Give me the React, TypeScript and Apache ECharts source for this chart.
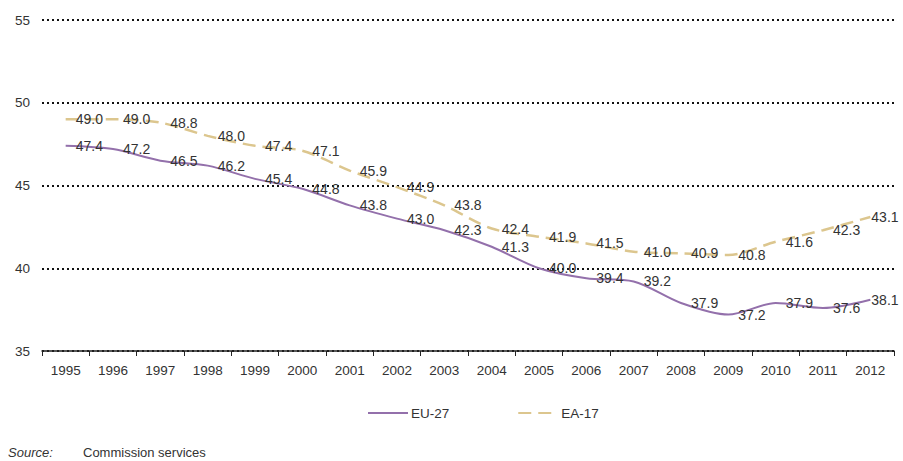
import React, { useEffect, useRef } from "react";
import * as echarts from "echarts";

const years = ["1995","1996","1997","1998","1999","2000","2001","2002","2003","2004","2005","2006","2007","2008","2009","2010","2011","2012"];
const eu27 = [47.4, 47.2, 46.5, 46.2, 45.4, 44.8, 43.8, 43.0, 42.3, 41.3, 40.0, 39.4, 39.2, 37.9, 37.2, 37.9, 37.6, 38.1];
const ea17 = [49.0, 49.0, 48.8, 48.0, 47.4, 47.1, 45.9, 44.9, 43.8, 42.4, 41.9, 41.5, 41.0, 40.9, 40.8, 41.6, 42.3, 43.1];
const seriesNames = ["EU-27", "EA-17"];
const yTicks = { min: 35, max: 55, interval: 5 };
const sourceLabel = "Source:";
const sourceText = "Commission services";

const FONT = "'Liberation Sans', Arial, sans-serif";

export default function App() {
  const ref = useRef<HTMLDivElement>(null);
  useEffect(() => {
    if (!ref.current) return;
    const chart = echarts.init(ref.current, null, { renderer: "svg" });
    const labelCfg = {
      show: true,
      position: "right",
      distance: 10,
      color: "#333",
      fontFamily: FONT,
      fontSize: 14,
      formatter: (p: any) => Number(p.value).toFixed(1),
    };
    const mkData = (arr: number[]) =>
      arr.map((v, i) => (i === arr.length - 1 ? { value: v, label: { distance: 1 } } : v));
    chart.setOption({
      animation: false,
      grid: { left: 42, right: 9, top: 20, bottom: 110, containLabel: false },
      legend: {
        top: 401,
        left: 362,
        itemWidth: 40,
        itemHeight: 10,
        itemGap: 68,
        itemStyle: { opacity: 0 },
        textStyle: { color: "#333", fontFamily: FONT, fontSize: 13.5, padding: [0, 0, 0, -2] },
        data: seriesNames,
      },
      xAxis: {
        type: "category",
        data: years,
        boundaryGap: true,
        axisLine: { lineStyle: { color: "#222", width: 1.5 } },
        axisTick: { show: true, length: 5, lineStyle: { color: "#222" } },
        axisLabel: { color: "#333", fontFamily: FONT, fontSize: 13.5, margin: 12 },
      },
      yAxis: {
        type: "value",
        min: yTicks.min,
        max: yTicks.max,
        interval: yTicks.interval,
        axisLine: { show: false },
        axisTick: { show: false },
        axisLabel: { color: "#333", fontFamily: FONT, fontSize: 13.5, margin: 12 },
        splitLine: { lineStyle: { color: "#111", width: 2, type: [2, 3] } },
      },
      series: [
        {
          name: seriesNames[0],
          type: "line",
          data: mkData(eu27),
          smooth: 0.3,
          symbol: "circle",
          symbolSize: 0.01,
          showSymbol: true,
          lineStyle: { color: "#9370ab", width: 2 },
          itemStyle: { color: "#9370ab" },
          label: labelCfg,
        },
        {
          name: seriesNames[1],
          type: "line",
          data: mkData(ea17),
          smooth: 0.3,
          symbol: "circle",
          symbolSize: 0.01,
          showSymbol: true,
          lineStyle: { color: "#dcc68e", width: 2.5, type: [13, 7] },
          itemStyle: { color: "#dcc68e" },
          label: labelCfg,
        },
      ],
      graphic: [
        {
          type: "text",
          left: 8,
          top: 446,
          style: { text: sourceLabel, fill: "#333", font: `italic 13px ${FONT}` },
        },
        {
          type: "text",
          left: 83,
          top: 446,
          style: { text: sourceText, fill: "#333", font: `13px ${FONT}` },
        },
      ],
    });
    return () => chart.dispose();
  }, []);
  return (
    <div
      ref={ref}
      style={{ position: "absolute", left: 0, top: 0, width: 903, height: 461 }}
    />
  );
}
